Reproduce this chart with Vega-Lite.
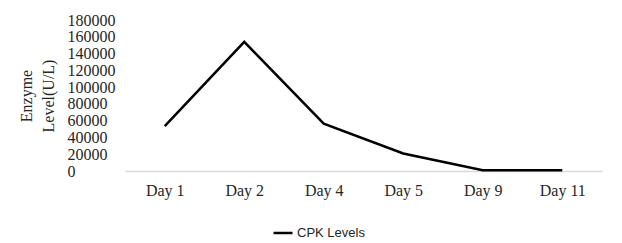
{
  "$schema": "https://vega.github.io/schema/vega-lite/v6.json",
  "autosize": "none",
  "width": 477,
  "height": 151,
  "padding": {"left": 125, "top": 20, "right": 20, "bottom": 72},
  "background": "white",
  "data": {
    "values": [
      {"day": "Day 1", "value": 53400, "series": "CPK Levels"},
      {"day": "Day 2", "value": 154000, "series": "CPK Levels"},
      {"day": "Day 4", "value": 56400, "series": "CPK Levels"},
      {"day": "Day 5", "value": 20900, "series": "CPK Levels"},
      {"day": "Day 9", "value": 900, "series": "CPK Levels"},
      {"day": "Day 11", "value": 800, "series": "CPK Levels"}
    ]
  },
  "mark": {"type": "line", "strokeWidth": 2.5, "strokeJoin": "miter"},
  "encoding": {
    "x": {
      "field": "day",
      "type": "ordinal",
      "sort": null,
      "scale": {"type": "point", "padding": 0.5},
      "axis": {
        "title": null,
        "labelAngle": 0,
        "labelFont": "Liberation Serif",
        "labelFontSize": 16,
        "labelColor": "#262626",
        "labelPadding": 11,
        "ticks": false,
        "domainColor": "#d9d9d9",
        "domainWidth": 1.5,
        "grid": false
      }
    },
    "y": {
      "field": "value",
      "type": "quantitative",
      "scale": {"domain": [0, 180000], "nice": false},
      "axis": {
        "values": [0, 20000, 40000, 60000, 80000, 100000, 120000, 140000, 160000, 180000],
        "format": "d",
        "domain": false,
        "ticks": false,
        "tickSize": 0,
        "grid": false,
        "labelAlign": "left",
        "labelPadding": 58,
        "labelFont": "Liberation Serif",
        "labelFontSize": 16,
        "labelColor": "#262626",
        "title": ["Enzyme", "Level(U/L)"],
        "titleFont": "Liberation Serif",
        "titleFontSize": 16,
        "titleFontWeight": "normal",
        "titleColor": "#262626",
        "titleLineHeight": 22,
        "titleAngle": -90,
        "titleAlign": "center",
        "titleBaseline": "middle",
        "titleX": -99,
        "titleY": 75.5
      }
    },
    "color": {
      "field": "series",
      "type": "nominal",
      "scale": {"range": ["#000000"]},
      "legend": {
        "title": null,
        "orient": "none",
        "legendX": 147,
        "legendY": 202,
        "padding": 0,
        "symbolType": "stroke",
        "symbolSize": 361,
        "symbolStrokeWidth": 2.5,
        "labelFont": "Liberation Sans",
        "labelFontSize": 13,
        "labelColor": "#262626",
        "labelOffset": 3
      }
    }
  },
  "config": {"view": {"stroke": null}}
}
